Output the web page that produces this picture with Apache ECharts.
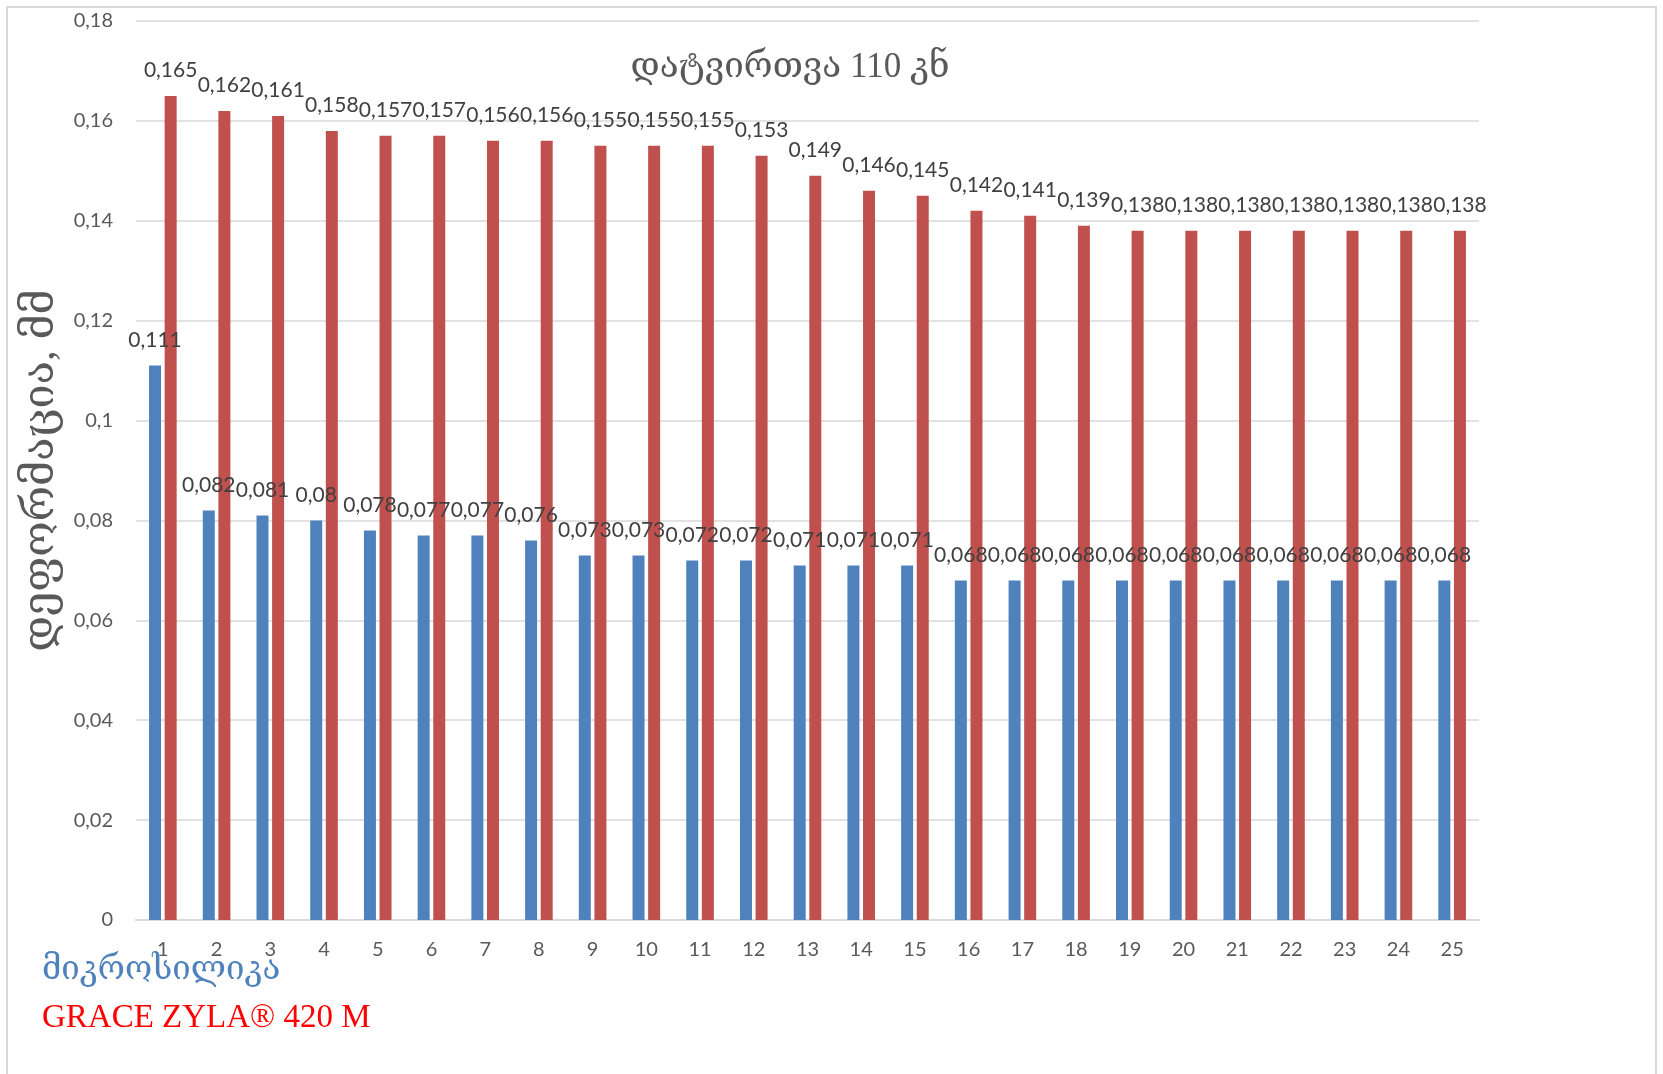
<!DOCTYPE html>
<html>
<head>
<meta charset="utf-8">
<script src="https://cdn.jsdelivr.net/npm/echarts@6/dist/echarts.min.js"></script>
<style>
  html, body { margin: 0; padding: 0; background: #ffffff; }
  #chart { width: 1663px; height: 1074px; }
</style>
</head>
<body>
<div id="chart"></div>
<script>
// Test positions 1..25
const categories = ['1','2','3','4','5','6','7','8','9','10','11','12','13','14','15','16','17','18','19','20','21','22','23','24','25'];

// Deformation, mm — microsilica
const microsilica = [0.111, 0.082, 0.081, 0.08, 0.078, 0.077, 0.077, 0.076, 0.073, 0.073,
                     0.072, 0.072, 0.071, 0.071, 0.071, 0.068, 0.068, 0.068, 0.068, 0.068,
                     0.068, 0.068, 0.068, 0.068, 0.068];

// Deformation, mm — GRACE ZYLA 420 M
const graceZyla = [0.165, 0.162, 0.161, 0.158, 0.157, 0.157, 0.156, 0.156, 0.155, 0.155,
                   0.155, 0.153, 0.149, 0.146, 0.145, 0.142, 0.141, 0.139, 0.138, 0.138,
                   0.138, 0.138, 0.138, 0.138, 0.138];

const yTicks = { min: 0, max: 0.18, interval: 0.02 };

const seriesNames = ['მიკროსილიკა', 'GRACE ZYLA® 420 M'];
const chartTitle = 'დატვირთვა 110 კნ';
const yAxisTitle = 'დეფორმაცია, მმ';

const comma = v => String(+v.toFixed(3)).replace('.', ',');
const labelFont = 'Lato, "Open Sans", sans-serif';
const serifFont = '"Liberation Serif", "DejaVu Serif", "DejaVu Sans", serif';

const chart = echarts.init(document.getElementById('chart'), null, { renderer: 'canvas' });

const barLabel = {
  show: true,
  position: 'top',
  distance: 15,
  color: '#404040',
  fontSize: 21,
  fontFamily: labelFont,
  formatter: p => comma(p.value)
};

chart.setOption({
  backgroundColor: '#ffffff',
  animation: false,
  graphic: [
    {
      type: 'rect',
      shape: { x: 7, y: 7, width: 1649, height: 1080 },
      style: { fill: 'none', stroke: '#d9d9d9', lineWidth: 2 },
      silent: true
    },
    {
      type: 'text',
      x: 790, y: 68,
      style: {
        text: chartTitle,
        fill: '#595959',
        font: '35px ' + serifFont,
        textAlign: 'center',
        textVerticalAlign: 'middle'
      },
      silent: true
    }
  ],
  legend: {
    orient: 'vertical',
    left: 36,
    top: 954,
    padding: 0,
    itemGap: 15,
    itemWidth: 1,
    itemHeight: 10,
    icon: 'none',
    selectedMode: false,
    textStyle: { fontFamily: serifFont },
    data: [
      { name: seriesNames[0], textStyle: { color: '#4F81BD', fontSize: 33 } },
      { name: seriesNames[1], textStyle: { color: '#FF0000', fontSize: 33 } }
    ]
  },
  grid: { left: 136, right: 184, top: 21, bottom: 154, containLabel: false },
  xAxis: {
    type: 'category',
    data: categories,
    boundaryGap: true,
    axisLine: { show: true, lineStyle: { color: '#d9d9d9', width: 2 } },
    axisTick: { show: false },
    axisLabel: { color: '#595959', fontSize: 20, fontFamily: labelFont, margin: 20, interval: 0 }
  },
  yAxis: {
    type: 'value',
    min: yTicks.min,
    max: yTicks.max,
    interval: yTicks.interval,
    name: yAxisTitle,
    nameLocation: 'middle',
    nameGap: 68,
    nameRotate: 90,
    nameTextStyle: { color: '#595959', fontSize: 43, fontFamily: serifFont },
    axisLine: { show: false },
    axisTick: { show: false },
    splitLine: { show: true, lineStyle: { color: '#d9d9d9', width: 1.5 } },
    axisLabel: {
      color: '#595959', fontSize: 20, fontFamily: labelFont, margin: 23,
      formatter: v => comma(v)
    }
  },
  series: [
    {
      name: seriesNames[0],
      type: 'bar',
      data: microsilica,
      barWidth: 12,
      barGap: '30%',
      itemStyle: { color: '#4F81BD' },
      label: barLabel
    },
    {
      name: seriesNames[1],
      type: 'bar',
      data: graceZyla,
      barWidth: 12,
      barGap: '30%',
      itemStyle: { color: '#C0504D' },
      label: barLabel
    }
  ]
});
</script>
</body>
</html>
